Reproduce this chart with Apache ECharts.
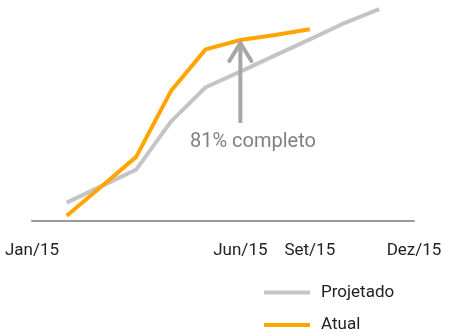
<!DOCTYPE html>
<html>
<head>
<meta charset="utf-8">
<script src="https://cdn.jsdelivr.net/npm/echarts@6/dist/echarts.min.js"></script>
<style>
  html, body { margin: 0; padding: 0; background: #fff; }
  #chart { width: 453px; height: 336px; }
</style>
</head>
<body>
<div id="chart"></div>
<script>
// Month slots along the axis; only some carry a label
const MONTHS = ['Jan/15', '', '', '', '', '', 'Jun/15', '', 'Set/15', '', '', 'Dez/15'];

// Cumulative progress (%)
const PROJETADO = [null, 8.1, 15.5, 22.9, 44.4, 59.8, 66.8, 74.1, 81.3, 88.6, 94.8, null];
const ATUAL     = [null, 2.2, 15.3, 28.6, 58.1, 76.8, 81, 83.2, 85.8, null, null, null];

// Month whose actual value is called out
const CALLOUT_INDEX = 6;

const FONT = 'Roboto, "Open Sans", sans-serif';
const chart = echarts.init(document.getElementById('chart'), null, { renderer: 'canvas' });

chart.setOption({
  animation: false,
  grid: { left: 32, right: 39, top: 8.75, bottom: 115.3 },
  xAxis: {
    type: 'category',
    boundaryGap: false,
    data: MONTHS,
    axisLine: { lineStyle: { color: '#9a9a9a', width: 2 } },
    axisTick: { show: false },
    axisLabel: {
      interval: 0,
      margin: 22,
      color: '#222',
      fontFamily: FONT,
      fontSize: 17
    },
    splitLine: { show: false }
  },
  yAxis: {
    type: 'value',
    min: 0,
    max: 95,
    show: false,
    splitLine: { show: false }
  },
  legend: {
    orient: 'vertical',
    left: 264,
    top: 282.5,
    padding: 0,
    itemWidth: 46,
    itemHeight: 4,
    itemGap: 12.6,
    icon: 'rect',
    textStyle: {
      color: '#222',
      fontFamily: FONT,
      fontSize: 17,
      lineHeight: 20,
      padding: [0, 0, 0, 6]
    },
    data: ['Projetado', 'Atual']
  },
  series: [
    {
      name: 'Projetado',
      type: 'line',
      data: PROJETADO,
      symbol: 'none',
      clip: false,
      lineStyle: { color: '#c4c4c4', width: 4 },
      itemStyle: { color: '#c4c4c4' }
    },
    {
      name: 'Atual',
      type: 'line',
      data: ATUAL,
      symbol: 'none',
      clip: false,
      lineStyle: { color: '#ffa500', width: 4 },
      itemStyle: { color: '#ffa500' }
    }
  ]
});

// Arrow pointing at the called-out value, with its caption below
const tip = chart.convertToPixel({ seriesIndex: 1 }, [CALLOUT_INDEX, ATUAL[CALLOUT_INDEX]]);
const ax = tip[0], ay = tip[1];
const arrowColor = '#a6a6a6';
chart.setOption({
  graphic: [
    {
      type: 'line', z: 10,
      shape: { x1: ax, y1: ay + 3, x2: ax, y2: ay + 83 },
      style: { stroke: arrowColor, lineWidth: 4 }
    },
    {
      type: 'polyline', z: 10,
      shape: { points: [[ax - 11, ay + 21], [ax, ay + 3], [ax + 11, ay + 21]] },
      style: { stroke: arrowColor, lineWidth: 4, fill: null, lineJoin: 'miter', lineCap: 'round' }
    },
    {
      type: 'text', z: 10,
      x: ax + 12.6, y: ay + 102,
      style: {
        text: ATUAL[CALLOUT_INDEX] + '% completo',
        fill: '#808080',
        font: '20px ' + FONT,
        align: 'center',
        verticalAlign: 'middle'
      }
    }
  ]
});
</script>
</body>
</html>
